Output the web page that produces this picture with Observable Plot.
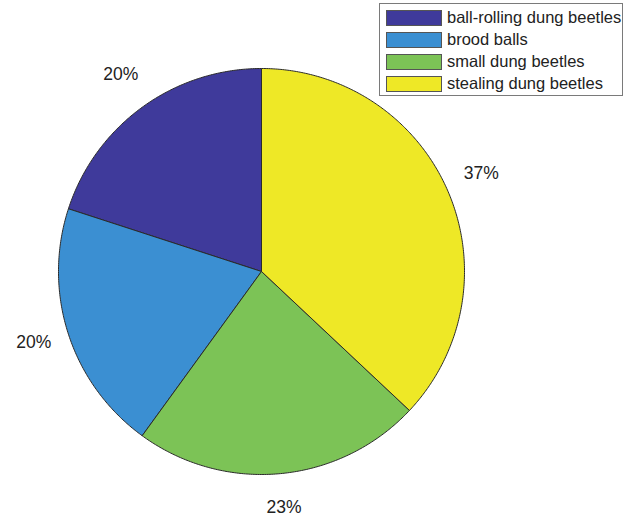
<!DOCTYPE html>
<html>
<head>
<meta charset="utf-8">
<script src="https://cdn.jsdelivr.net/npm/d3@7"></script>
<script src="https://cdn.jsdelivr.net/npm/@observablehq/plot@0.6"></script>
<style>
  body { margin: 0; background: #fff; font-family: "Liberation Sans", Arial, sans-serif; }
  #wrap { position: relative; width: 626px; height: 518px; }
  #legend { position: absolute; left: 379px; top: 3px; width: 244px; height: 93px;
            border: 1px solid #7a7a7a; background: #fff; box-sizing: border-box; }
  .row { position: absolute; left: 6px; height: 17px; display: flex; align-items: center; }
  .sw { width: 56px; height: 16px; border: 1px solid #555; box-sizing: border-box; margin-right: 5px; }
  .lab { font-size: 16.5px; color: #222; white-space: nowrap; }
</style>
</head>
<body>
<div id="wrap"><div id="chart"></div><div id="legend"></div></div>
<script>
const categories = ["ball-rolling dung beetles", "brood balls", "small dung beetles", "stealing dung beetles"];
const values = [20, 20, 23, 37];
const labels = ["20%", "20%", "23%", "37%"];
const colors = ["#3f3a9b", "#3b8fd2", "#7cc356", "#eee826"];

const total = d3.sum(values);
let start = Math.PI / 2;
const slices = categories.map((c, i) => {
  const span = 2 * Math.PI * values[i] / total;
  const s = { cat: c, a0: start, a1: start + span, color: colors[i], label: labels[i] };
  start += span;
  return s;
});

const marks = [];
for (const s of slices) {
  const n = Math.max(2, Math.ceil((s.a1 - s.a0) / (Math.PI / 360)));
  const pts = [{ x: 0, y: 0 }];
  for (let k = 0; k <= n; k++) {
    const a = s.a0 + (s.a1 - s.a0) * k / n;
    pts.push({ x: Math.cos(a), y: Math.sin(a) });
  }
  pts.push({ x: 0, y: 0 });
  marks.push(Plot.line(pts, { x: "x", y: "y", fill: s.color, stroke: "#2a2a2a", strokeWidth: 1, curve: "linear" }));
}
const labelRadius = 1.18;
const textData = slices.map(s => {
  const m = (s.a0 + s.a1) / 2;
  return { x: labelRadius * Math.cos(m), y: labelRadius * Math.sin(m), t: s.label };
});
marks.push(Plot.text(textData, { x: "x", y: "y", text: "t", dy: -3, fontSize: 17.5, fill: "#222", fontFamily: "Liberation Sans, Arial, sans-serif" }));

const chart = Plot.plot({
  width: 626, height: 518,
  marginLeft: 58, marginRight: 162, marginTop: 68, marginBottom: 44,
  x: { domain: [-1, 1], axis: null },
  y: { domain: [-1, 1], axis: null },
  style: { background: "#fff", overflow: "visible" },
  marks
});
document.getElementById("chart").appendChild(chart);

const legend = document.getElementById("legend");
categories.forEach((c, i) => {
  const r = document.createElement("div");
  r.className = "row";
  r.style.top = (5 + i * 22) + "px";
  r.innerHTML = `<div class="sw" style="background:${colors[i]}"></div><span class="lab">${c}</span>`;
  legend.appendChild(r);
});
</script>
</body>
</html>
